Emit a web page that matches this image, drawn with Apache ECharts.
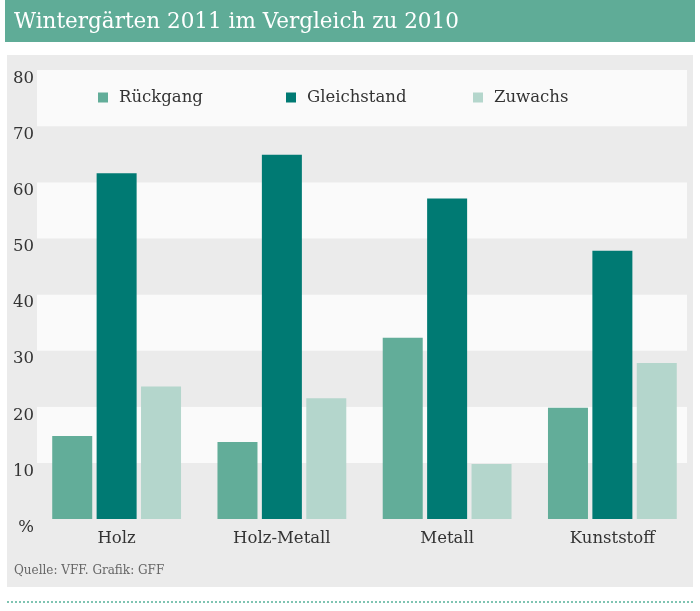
<!DOCTYPE html>
<html>
<head>
<meta charset="utf-8">
<script src="https://cdn.jsdelivr.net/npm/echarts@6/dist/echarts.min.js"></script>
<style>html,body{margin:0;padding:0;background:#fff}#c{width:700px;height:611px}</style>
</head>
<body>
<div id="c"></div>
<script>
const categories = ['Holz', 'Holz-Metall', 'Metall', 'Kunststoff'];
const rueckgang = [14.8, 13.7, 32.3, 19.8];
const gleichstand = [61.6, 64.9, 57.1, 47.8];
const zuwachs = [23.6, 21.5, 9.8, 27.8];
const seriesNames = ['Rückgang', 'Gleichstand', 'Zuwachs'];
const yTicks = [0, 10, 20, 30, 40, 50, 60, 70, 80];

const FONT = 'DejaVu Serif';
const colors = ['#62ad99', '#007a73', '#b4d6cc'];
const chart = echarts.init(document.getElementById('c'), null, {renderer: 'canvas'});

function legendAt(name, left) {
  return {
    data: [name], left: left, top: 84, icon: 'rect', itemWidth: 10, itemHeight: 10,
    textStyle: {fontFamily: FONT, fontSize: 16.5, color: '#333', padding: [0, 0, 0, 6]}
  };
}

chart.setOption({
  animation: false,
  color: colors,
  title: [
    {text: 'Wintergärten 2011 im Vergleich zu 2010', left: 9, top: 6,
     textStyle: {fontFamily: FONT, fontSize: 21.5, fontWeight: 'normal', color: '#fff'}},
    {text: 'Quelle: VFF. Grafik: GFF', left: 9, top: 560,
     textStyle: {fontFamily: FONT, fontSize: 12, fontWeight: 'normal', color: '#666'}}
  ],
  graphic: [
    {type: 'rect', z: -10, shape: {x: 5, y: 0, width: 690, height: 42}, style: {fill: '#5fac97'}},
    {type: 'rect', z: -10, shape: {x: 7, y: 55, width: 686, height: 532}, style: {fill: '#ebebeb'}},
    {type: 'line', z: -10, shape: {x1: 7, y1: 602, x2: 693, y2: 602},
     style: {stroke: '#7fc4b2', lineWidth: 2, lineDash: [2, 2]}}
  ],
  legend: [legendAt(seriesNames[0], 93), legendAt(seriesNames[1], 281), legendAt(seriesNames[2], 468)],
  grid: [
    {left: 37, right: 13, top: 70, bottom: 92},
    {left: 34, right: 5, top: 70, bottom: 92}
  ],
  xAxis: [
    {gridIndex: 0, type: 'category', data: categories, show: false},
    {gridIndex: 1, type: 'category', data: categories,
     axisLine: {show: false}, axisTick: {show: false},
     axisLabel: {margin: 11, fontFamily: FONT, fontSize: 16.5, color: '#333'}}
  ],
  yAxis: [
    {gridIndex: 0, type: 'value', min: yTicks[0], max: yTicks[yTicks.length - 1], interval: 10,
     axisLine: {show: false}, axisTick: {show: false}, splitLine: {show: false},
     splitArea: {show: true, areaStyle: {color: ['#ebebeb', '#fafafa']}},
     axisLabel: {margin: 3, align: 'right', verticalAlign: 'top',
       fontFamily: FONT, fontSize: 16.5, color: '#333',
       formatter: v => v === 0 ? '%' : String(v)}},
    {gridIndex: 1, type: 'value', min: yTicks[0], max: yTicks[yTicks.length - 1], interval: 10, show: false,
     splitLine: {show: false}}
  ],
  series: [
    {name: seriesNames[0], type: 'bar', xAxisIndex: 1, yAxisIndex: 1, data: rueckgang, barWidth: 40, barGap: '11%'},
    {name: seriesNames[1], type: 'bar', xAxisIndex: 1, yAxisIndex: 1, data: gleichstand, barWidth: 40, barGap: '11%'},
    {name: seriesNames[2], type: 'bar', xAxisIndex: 1, yAxisIndex: 1, data: zuwachs, barWidth: 40, barGap: '11%'}
  ]
});
</script>
</body>
</html>
